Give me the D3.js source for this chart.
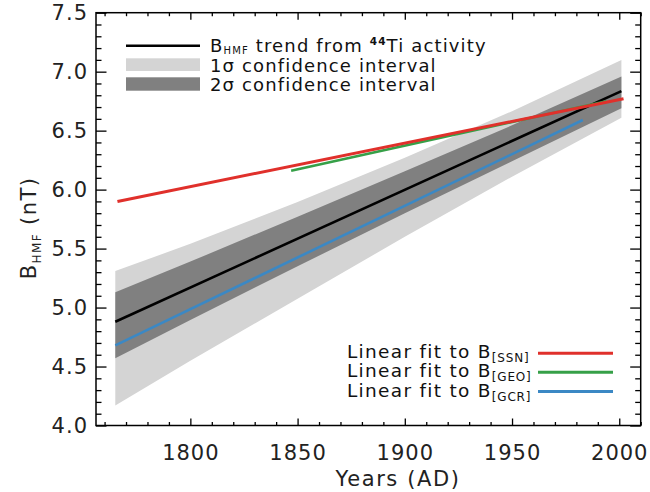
<!DOCTYPE html>
<html><head><meta charset="utf-8">
<script src="https://cdn.jsdelivr.net/npm/d3@7"></script>
<style>body{margin:0;background:#fff}svg{display:block}</style>
</head><body>
<script>
// ---- data ----
const bandYears   = [1765, 1800, 1850, 1900, 1950, 2001];
const band1Upper  = [5.31, 5.54, 5.895, 6.27, 6.665, 7.10];   // 1σ (light)
const band1Lower  = [4.17, 4.55, 5.075, 5.60, 6.11, 6.61];
const band2Upper  = [5.13, 5.39, 5.77, 6.155, 6.545, 6.96];   // 2σ (dark)
const band2Lower  = [4.57, 4.895, 5.35, 5.80, 6.24, 6.69];
const trendYears  = [1765, 2001];
const trendValues = [4.88, 6.835];
const ssnYears = [1766, 2002], ssnValues = [5.90, 6.77];
const geoYears = [1847, 1994], geoValues = [6.16, 6.75];
const gcrYears = [1765, 1983], gcrValues = [4.68, 6.59];
const xMajorTicks = [1800, 1850, 1900, 1950, 2000];
const yMajorTicks = [4.0, 4.5, 5.0, 5.5, 6.0, 6.5, 7.0, 7.5];

const W = 650, H = 492;
const L = 96, R = 640.7, T = 12.7, B = 425.5;
const x = d3.scaleLinear().domain([1756, 2010]).range([L, R]);
const y = d3.scaleLinear().domain([4.0, 7.5]).range([B, T]);
const FONT = "DejaVu Sans";

const svg = d3.select("body").append("svg").attr("width", W).attr("height", H)
  .style("font-family", FONT);

// bands
const area = d3.area().x(d => x(d.t)).y0(d => y(d.lo)).y1(d => y(d.hi));
const b1 = bandYears.map((t, i) => ({t, lo: band1Lower[i], hi: band1Upper[i]}));
const b2 = bandYears.map((t, i) => ({t, lo: band2Lower[i], hi: band2Upper[i]}));
svg.append("path").datum(b1).attr("d", area).attr("fill", "#d4d4d4");
svg.append("path").datum(b2).attr("d", area).attr("fill", "#808080");

const line = d3.line().x(d => x(d[0])).y(d => y(d[1]));
function drawLine(ts, vs, color, w) {
  svg.append("path").datum(ts.map((t, i) => [t, vs[i]])).attr("d", line)
    .attr("fill", "none").attr("stroke", color).attr("stroke-width", w);
}
drawLine(trendYears, trendValues, "#000", 2.6);
drawLine(gcrYears, gcrValues, "#3b88c4", 2.6);
drawLine(geoYears, geoValues, "#36a048", 2.6);
drawLine(ssnYears, ssnValues, "#e0302b", 3);

// axes
const xMinor = d3.range(1760, 2011, 10).filter(v => !xMajorTicks.includes(v));
const yMinor = d3.range(40, 76, 1).map(v => v / 10).filter(v => !yMajorTicks.some(m => Math.abs(m - v) < 1e-9));
function axis(gen, scale, ticks, size, tx, ty) {
  const a = gen(scale).tickValues(ticks).tickSizeInner(size).tickSizeOuter(0).tickFormat("");
  const g = svg.append("g").attr("transform", `translate(${tx},${ty})`).call(a);
  g.select(".domain").remove();
  g.selectAll("line").attr("stroke", "#000").attr("stroke-width", 1.3);
  return g;
}
axis(d3.axisTop, x, xMajorTicks, 7, 0, B);
axis(d3.axisTop, x, xMinor, 3.5, 0, B);
axis(d3.axisBottom, x, xMajorTicks, 7, 0, T);
axis(d3.axisBottom, x, xMinor, 3.5, 0, T);
axis(d3.axisRight, y, yMajorTicks, 10.5, L, 0);
axis(d3.axisRight, y, yMinor, 5.5, L, 0);
axis(d3.axisLeft, y, yMajorTicks, 10.5, R, 0);
axis(d3.axisLeft, y, yMinor, 5.5, R, 0);

svg.append("rect").attr("x", L).attr("y", T).attr("width", R - L).attr("height", B - T)
  .attr("fill", "none").attr("stroke", "#000").attr("stroke-width", 1.5);

// tick labels
svg.append("g").selectAll("text").data(xMajorTicks).join("text")
  .attr("x", d => x(d) + 0.5).attr("y", 460).attr("text-anchor", "middle")
  .attr("font-size", 21).attr("letter-spacing", 1).attr("fill", "#222").text(d => d);
svg.append("g").selectAll("text").data(yMajorTicks).join("text")
  .attr("x", 88).attr("y", d => y(d) + 7.5).attr("text-anchor", "end")
  .attr("font-size", 21).attr("letter-spacing", 1).attr("fill", "#222").text(d => d.toFixed(1));

// axis titles
svg.append("text").attr("x", 398).attr("y", 486).attr("text-anchor", "middle")
  .attr("font-size", 21).attr("letter-spacing", 1.6).attr("fill", "#222").text("Years (AD)");
const yl = svg.append("text").attr("transform", "translate(36,228) rotate(-90)")
  .attr("text-anchor", "middle").attr("font-size", 21).attr("letter-spacing", 1.4).attr("fill", "#222");
yl.append("tspan").text("B");
yl.append("tspan").attr("font-size", 12).attr("dy", 5).text("HMF");
yl.append("tspan").attr("dy", -5).text(" (nT)");

// top legend
const lgx1 = 126, lgx2 = 200, tx0 = 210;
svg.append("line").attr("x1", lgx1).attr("x2", lgx2).attr("y1", 45.7).attr("y2", 45.7)
  .attr("stroke", "#000").attr("stroke-width", 2.6);
svg.append("rect").attr("x", lgx1).attr("y", 58.3).attr("width", lgx2 - lgx1).attr("height", 12.7).attr("fill", "#d4d4d4");
svg.append("rect").attr("x", lgx1).attr("y", 77.3).attr("width", lgx2 - lgx1).attr("height", 13.4).attr("fill", "#808080");
const LS = 1.15;
const t1 = svg.append("text").attr("x", tx0).attr("y", 51.5).attr("font-size", 18).attr("letter-spacing", LS).attr("fill", "#111");
t1.append("tspan").text("B");
t1.append("tspan").attr("font-size", 10).attr("dy", 2.5).text("HMF");
t1.append("tspan").attr("dy", -2.5).text(" trend from ");
t1.append("tspan").attr("font-size", 10.5).attr("dy", -7).attr("font-weight", "bold").text("44");
t1.append("tspan").attr("dy", 7).text("Ti activity");
svg.append("text").attr("x", tx0).attr("y", 72).attr("font-size", 18).attr("letter-spacing", LS).attr("fill", "#111").text("1σ confidence interval");
svg.append("text").attr("x", tx0).attr("y", 91).attr("font-size", 18).attr("letter-spacing", LS).attr("fill", "#111").text("2σ confidence interval");

// bottom legend
const fits = [["SSN", "#e0302b", 353.3], ["GEO", "#36a048", 372.3], ["GCR", "#3b88c4", 391.5]];
fits.forEach(([lab, col, yy]) => {
  svg.append("line").attr("x1", 538).attr("x2", 613).attr("y1", yy).attr("y2", yy)
    .attr("stroke", col).attr("stroke-width", 3);
  const t = svg.append("text").attr("x", 347).attr("y", yy + 5)
    .attr("font-size", 18.5).attr("letter-spacing", 1.3).attr("fill", "#111");
  t.append("tspan").text("Linear fit to B");
  t.append("tspan").attr("font-size", 12).attr("dy", 4).attr("letter-spacing", 0.8).text("[" + lab + "]");
});
</script>
</body></html>
